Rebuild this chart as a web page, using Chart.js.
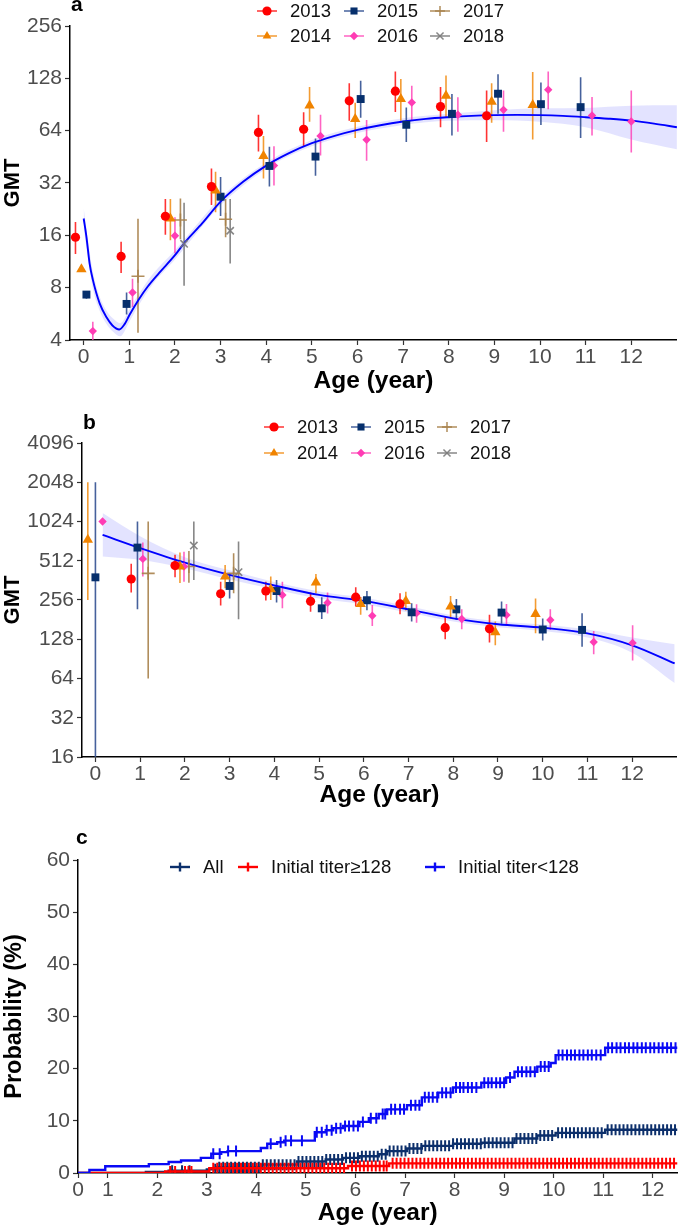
<!DOCTYPE html>
<html lang="en">
<head>
<meta charset="UTF-8">
<title>GMT by age and survival probability</title>
<script src="https://cdn.jsdelivr.net/npm/chart.js@4.4.1/dist/chart.umd.min.js"></script>
<style>
    body { margin: 0; background: #fff; font-family: "Liberation Sans", Arial, sans-serif; }
    #page { position: relative; width: 685px; height: 1228px; overflow: hidden; }
    .panel { position: absolute; left: 0; }
    .tag { position: absolute; font-size: 21px; font-weight: bold; line-height: 1; color: #000; }
    .legend { position: absolute; display: grid; grid-auto-flow: column; font-size: 18.5px; color: #111; }
    .legend .item { display: flex; align-items: center; white-space: nowrap; }
    .legend canvas { margin-right: 12px; }
</style>
</head>
<body>
<div id="page">
    <div class="panel" style="top:0"><canvas id="chartA" width="685" height="400"></canvas></div>
    <div class="panel" style="top:400px"><canvas id="chartB" width="685" height="410"></canvas></div>
    <div class="panel" style="top:810px"><canvas id="chartC" width="685" height="418"></canvas></div>
    <div class="tag" style="left:71px; top:-7px">a</div>
    <div class="tag" style="left:83px; top:411px">b</div>
    <div class="tag" style="left:76px; top:826px">c</div>
    <div class="legend" id="legendA" style="left:256px; top:-2px; grid-template-columns:87px 86px 90px; grid-template-rows:25px 25px"></div>
    <div class="legend" id="legendB" style="left:263px; top:414px; grid-template-columns:87px 86px 90px; grid-template-rows:26px 26px"></div>
    <div class="legend" id="legendC" style="left:169px; top:855px; grid-template-columns:68px 187px auto; grid-template-rows:24px"></div>
</div>

<script>
    // survey years
    const years = ['2013', '2014', '2015', '2016', '2017', '2018'];

    // panel a: [age, GMT, lower, upper]
    const a2013 = [[-0.18, 15.6, 12.5, 19.1], [0.82, 12.1, 9.7, 14.7], [1.79, 20.6, 16.1, 25.9], [2.80, 30.5, 23.9, 38.8],
        [3.83, 62.5, 48.6, 78.9], [4.82, 65.2, 51.8, 81.6], [5.82, 95, 73, 120], [6.83, 108, 82, 140],
        [7.82, 88, 67, 114], [8.83, 78, 55, 109]];
    const a2014 = [[-0.05, 10.2, 9.9, 10.5], [1.90, 20, 15, 25.9], [2.89, 29, 21.7, 37.2], [3.94, 45.8, 34, 59.6],
        [4.95, 89.3, 72, 114], [5.95, 74.6, 58, 92.5], [6.95, 97.3, 73, 127], [7.94, 101.6, 76, 133],
        [8.94, 94, 71, 120], [9.84, 90, 57, 139]];
    const a2015 = [[0.06, 7.3, 6.9, 7.6], [0.94, 6.45, 5.6, 7.5], [3.0, 26.7, 20.7, 34.6], [4.07, 40.1, 30.5, 51.7],
        [5.08, 45.4, 35.2, 57.7], [6.07, 97.3, 76, 124], [7.07, 69.2, 55, 87], [8.07, 80, 60, 104],
        [9.08, 104.4, 80, 135], [10.02, 90.9, 69, 121], [10.89, 87.4, 58, 130]];
    const a2016 = [[0.2, 4.5, 4, 5.1], [1.07, 7.5, 6.2, 9.0], [2.0, 15.9, 12.6, 20.3], [4.17, 40.3, 31, 52],
        [5.19, 59.7, 46, 79], [6.2, 56.7, 43, 73.7], [7.19, 92.9, 73, 116], [8.2, 79, 63, 99.5],
        [9.2, 84.3, 63, 109], [10.18, 110, 85, 140], [11.14, 78.2, 60, 100], [12.0, 72.2, 48, 109]];
    const a2017 = [[1.19, 9.3, 4.4, 19.9], [2.12, 19.6, 15.2, 26.1], [3.11, 19.8, 15.6, 25.9]];
    const a2018 = [[2.2, 14.3, 8.2, 24.6], [3.21, 17, 11, 25.9]];

    // panel a: fitted curve and its confidence band
    const fitAAge = [0, 0.06, 0.13, 0.2, 0.35, 0.5, 0.63, 0.78, 0.9, 1.0, 1.2, 1.4, 1.65, 2.0, 2.2, 2.6, 3.0, 3.5,
        4, 4.5, 5, 5.5, 6, 6.5, 7, 7.5, 8, 8.5, 9, 9.5, 10, 10.5, 11, 11.5, 12, 12.5, 13];
    const fitAGmt = [20, 15.7, 11, 8.9, 6.5, 5.4, 4.85, 4.6, 4.95, 5.55, 6.8, 8.1, 9.7, 12.3, 14.4, 18.8, 25, 32.6,
        40.3, 47.5, 54.2, 59.8, 64.7, 68.8, 72.2, 74.8, 76.5, 77.8, 78.6, 78.9, 78.6, 77.8, 76.5, 75, 73.1, 70.3, 67];
    const bandAAge = [0, 0.1, 0.2, 0.35, 0.5, 0.65, 0.8, 1.0, 1.2, 1.5, 2, 2.5, 3, 4, 5, 6, 7, 8, 9, 10, 11, 12, 13];
    const bandAHi = [23, 14.6, 9.9, 7.1, 5.9, 5.3, 5.0, 6.0, 7.3, 9.5, 13.1, 18.7, 26.3, 42, 56.5, 67.5, 75.5, 80, 84, 86, 86.5, 89, 89.5];
    const bandALo = [17.4, 11.6, 7.9, 5.9, 4.95, 4.45, 4.2, 5.1, 6.3, 8.3, 11.6, 16.8, 23.8, 38.7, 52, 62, 69, 73, 73.5, 72, 67, 57, 50];

    // panel b: [age, GMT, lower, upper]
    const b2013 = [[0.80, 371, 292, 485], [1.78, 470, 383, 568], [2.80, 286, 232, 354], [3.81, 300, 254, 354],
        [4.81, 250, 208, 292], [5.82, 269, 228, 321], [6.81, 239, 199, 288], [7.82, 157, 128, 190], [8.81, 154, 121, 197]];
    const b2014 = [[-0.17, 741, 256, 2048], [1.89, 462, 345, 592], [2.90, 387, 315, 475], [3.92, 309, 256, 388],
        [4.93, 348, 288, 405], [5.93, 239, 197, 270], [6.94, 252, 213, 296], [7.94, 228, 185, 275],
        [8.94, 145, 115, 175], [9.84, 200, 142, 263]];
    const b2015 = [[0.0, 382, 12, 2048], [0.94, 646, 217, 1024], [3.0, 328, 263, 410], [4.05, 300, 245, 365],
        [5.06, 221, 183, 269], [6.07, 255, 214, 300], [7.07, 206, 175, 242], [8.07, 217, 180, 261],
        [9.08, 205, 168, 249], [10.0, 152, 125, 185], [10.88, 151, 112, 203]];
    const b2016 = [[0.16, 1024, 1010, 1040], [1.06, 529, 388, 706], [1.98, 462, 354, 601], [4.18, 280, 221, 354],
        [5.19, 244, 202, 292], [6.19, 194, 162, 234], [7.18, 203, 171, 237], [8.19, 183, 153, 217],
        [9.19, 196, 164, 239], [10.17, 180, 151, 217], [11.14, 122, 98, 148], [12.01, 120, 88, 164]];
    const b2017 = [[1.18, 410, 64, 1024], [2.09, 462, 347, 609], [3.09, 410, 288, 585]];
    const b2018 = [[2.2, 669, 365, 1024], [3.2, 418, 182, 719]];

    const fitBAge = [0.16, 1, 2, 3, 4, 5, 6, 7, 8, 9, 10, 11, 12, 12.95];
    const fitBGmt = [808, 640, 495, 399, 331, 280, 252, 217, 185, 167, 157, 142, 115, 83.5];
    const bandBAge = [0.16, 1, 2, 3, 4, 5, 6, 7, 8, 9, 10, 11, 12, 12.95];
    const bandBHi = [1190, 790, 545, 432, 352, 298, 267, 229, 195, 176, 166, 152, 132, 117];
    const bandBLo = [552, 520, 448, 368, 310, 263, 238, 205, 175, 158, 148, 132, 101, 59];

    // axis ticks
    const ageTicks = [0, 1, 2, 3, 4, 5, 6, 7, 8, 9, 10, 11, 12];
    const gmtTicksA = [4, 8, 16, 32, 64, 128, 256];
    const gmtTicksB = [16, 32, 64, 128, 256, 512, 1024, 2048, 4096];
    const survAgeTicks = [0.4, 1, 2, 3, 4, 5, 6, 7, 8, 9, 10, 11, 12];
    const survAgeLabels = ['0', '1', '2', '3', '4', '5', '6', '7', '8', '9', '10', '11', '12'];
    const probTicks = [0, 10, 20, 30, 40, 50, 60];
    const probMinorTicks = [5, 15, 25, 35, 45, 55];

    // panel c: step times (age) and cumulative probability (%)
    const survNames = ['All', 'Initial titer\u2265128', 'Initial titer<128'];
    const allT = [0.4, 1.77, 2.23, 3.0, 3.2, 4.09, 4.82, 5.4, 5.75, 6.08, 6.47, 6.64, 7.04, 7.34, 7.97, 8.54, 9.21, 9.67, 10.04, 11.04, 12.5];
    const allP = [0, 0.2, 0.45, 0.7, 1.1, 1.6, 2.2, 2.6, 2.9, 3.2, 3.6, 4.2, 4.7, 5.2, 5.6, 5.8, 6.6, 7.2, 7.7, 8.3, 8.3];
    const highT = [0.4, 2.16, 3.05, 5.85, 6.68, 12.5];
    const highP = [0, 0.3, 0.9, 1.35, 1.85, 1.85];
    const lowT = [0.4, 0.63, 0.95, 1.83, 2.23, 2.48, 2.88, 3.09, 3.29, 3.42, 4.09, 4.22, 4.42, 4.56, 5.18, 5.4, 5.55, 5.75,
        6.08, 6.27, 6.47, 6.64, 7.04, 7.34, 7.67, 7.97, 8.54, 9.04, 9.21, 9.67, 9.94, 10.04, 11.04, 12.5];
    const lowP = [0, 0.6, 1.3, 1.7, 2.1, 2.4, 2.9, 3.7, 4.0, 4.2, 4.8, 5.6, 5.9, 6.2, 7.8, 8.2, 8.6, 9.0,
        9.8, 10.5, 11.3, 12.2, 13.0, 14.5, 15.4, 16.4, 17.3, 18.3, 19.4, 20.4, 21.1, 22.6, 24.0, 24.0];

    // censored ages
    const allCensor = [2.3, 2.5, 2.65, 3.17, 3.25, 3.33, 3.41, 3.49, 3.57, 3.65, 3.73, 3.81, 3.89, 3.97, 4.05, 4.13, 4.21,
        4.29, 4.37, 4.45, 4.53, 4.61, 4.69, 4.77, 4.85, 4.93, 5.01, 5.09, 5.17, 5.25, 5.33, 5.41, 5.49, 5.57, 5.65,
        5.73, 5.81, 5.89, 5.97, 6.05, 6.13, 6.21, 6.29, 6.37, 6.45, 6.53, 6.61, 6.69, 6.77, 6.85, 6.93, 7.01, 7.09,
        7.17, 7.25, 7.33, 7.41, 7.49, 7.57, 7.65, 7.73, 7.81, 7.89, 7.97, 8.05, 8.13, 8.21, 8.29, 8.37, 8.45, 8.53,
        8.61, 8.69, 8.77, 8.85, 8.93, 9.01, 9.09, 9.17, 9.25, 9.33, 9.41, 9.49, 9.57, 9.65, 9.73, 9.81, 9.89, 9.97,
        10.09, 10.17, 10.25, 10.33, 10.41, 10.49, 10.57, 10.65, 10.73, 10.81, 10.89, 10.97, 11.09, 11.17, 11.25,
        11.33, 11.41, 11.49, 11.57, 11.65, 11.73, 11.81, 11.89, 11.97, 12.05, 12.13, 12.21, 12.29, 12.37, 12.45];
    const highCensor = [2.26, 2.36, 2.56, 2.63, 2.69, 3.13, 3.21, 3.29, 3.37, 3.45, 3.53, 3.61, 3.69, 3.77, 3.85, 3.93,
        4.01, 4.09, 4.17, 4.25, 4.33, 4.41, 4.49, 4.57, 4.65, 4.73, 4.81, 4.89, 4.97, 5.05, 5.13, 5.21, 5.29, 5.37,
        5.45, 5.53, 5.61, 5.69, 5.77, 5.93, 6.01, 6.09, 6.17, 6.25, 6.33, 6.41, 6.49, 6.57, 6.63, 6.75, 6.83, 6.91,
        6.99, 7.07, 7.15, 7.23, 7.31, 7.39, 7.47, 7.55, 7.63, 7.71, 7.79, 7.87, 7.95, 8.03, 8.11, 8.19, 8.27, 8.35,
        8.43, 8.51, 8.59, 8.67, 8.75, 8.83, 8.91, 8.99, 9.07, 9.15, 9.23, 9.31, 9.39, 9.47, 9.55, 9.63, 9.71, 9.79,
        9.87, 9.95, 10.03, 10.11, 10.19, 10.27, 10.35, 10.43, 10.51, 10.59, 10.67, 10.75, 10.83, 10.91, 10.99,
        11.07, 11.15, 11.23, 11.31, 11.39, 11.47, 11.55, 11.63, 11.71, 11.79, 11.87, 11.95, 12.03, 12.11, 12.19,
        12.27, 12.35, 12.43];
    const lowCensor = [3.13, 3.26, 3.43, 3.59, 4.29, 4.49, 4.59, 4.70, 4.92, 5.22, 5.32, 5.42, 5.52, 5.61, 5.7, 5.79,
        5.87, 5.96, 6.05, 6.15, 6.31, 6.42, 6.55, 6.6, 6.72, 6.8, 6.9, 6.98, 7.12, 7.21, 7.29, 7.4, 7.48, 7.56, 7.65,
        7.75, 7.83, 7.92, 8.03, 8.11, 8.18, 8.27, 8.35, 8.44, 8.6, 8.68, 8.75, 8.84, 8.92, 9.0, 9.12, 9.28, 9.36,
        9.45, 9.53, 9.62, 9.74, 9.82, 9.9, 10.1, 10.18, 10.27, 10.35, 10.43, 10.52, 10.6, 10.69, 10.77, 10.86, 10.95,
        11.1, 11.18, 11.27, 11.35, 11.44, 11.52, 11.61, 11.69, 11.78, 11.86, 11.95, 12.03, 12.12, 12.2, 12.29,
        12.37, 12.46];

    // styles
    const yearColors = ['#ff0000', '#f08300', '#062f6c', '#ff3cb4', '#a7814a', '#7a7a7a'];
    const barColors = ['rgba(255,0,0,0.8)', 'rgba(240,131,0,0.8)', 'rgba(50,80,145,0.9)', 'rgba(255,60,180,0.8)', 'rgba(167,129,74,0.9)', 'rgba(122,122,122,0.9)'];
    const yearShapes = ['circle', 'triangle', 'rect', 'rectRot', 'cross', 'crossRot'];
    const yearRadius = [4.6, 6, 5.6, 4.2, 6.5, 5.2];
    const survColors = ['#0c2f6b', '#ff0000', '#0a0af5'];
    const fitColor = '#0000ff';
    const bandColor = 'rgba(60,60,255,0.14)';
    const tickGrey = '#4d4d4d';

    Chart.defaults.font.family = '"Liberation Sans", Arial, sans-serif';
    Chart.defaults.animation = false;
    Chart.defaults.events = [];
    Chart.defaults.plugins.legend.display = false;
    Chart.defaults.plugins.tooltip.enabled = false;

    const isStroked = s => s === 'cross' || s === 'crossRot' || s === 'line';
    const axisGrid = { drawOnChartArea: false, offset: false, tickLength: 5, tickColor: '#333', tickWidth: 1.2 };
    const axisBorder = { display: true, color: '#000', width: 1.5 };

    function gmtDatasets(series, fitX, fitY, bandX, bandLo, bandHi) {
        const sets = [
            { type: 'line', data: bandX.map((x, i) => ({ x, y: bandHi[i] })), borderWidth: 0, pointRadius: 0,
              fill: false, cubicInterpolationMode: 'monotone', order: 10 },
            { type: 'line', data: bandX.map((x, i) => ({ x, y: bandLo[i] })), borderWidth: 0, pointRadius: 0,
              fill: '-1', backgroundColor: bandColor, cubicInterpolationMode: 'monotone', order: 10 },
            { type: 'line', data: fitX.map((x, i) => ({ x, y: fitY[i] })), borderColor: fitColor, borderWidth: 1.9,
              pointRadius: 0, fill: false, cubicInterpolationMode: 'monotone', order: 4 }
        ];
        // error bars: one broken line per year (null breaks the segments)
        series.forEach((rows, i) => {
            sets.push({ type: 'line', data: rows.flatMap(r => [{ x: r[0], y: r[2] }, { x: r[0], y: r[3] }, { x: r[0], y: null }]),
                borderColor: barColors[i], borderWidth: 1.6, pointRadius: 0, fill: false, spanGaps: false, order: 5 });
        });
        series.forEach((rows, i) => {
            const stroked = isStroked(yearShapes[i]);
            sets.push({ type: 'scatter', data: rows.map(r => ({ x: r[0], y: r[1] })), pointStyle: yearShapes[i],
                pointRadius: yearRadius[i], backgroundColor: yearColors[i],
                borderColor: stroked ? barColors[i] : yearColors[i], borderWidth: stroked ? 1.6 : 0, order: 1 });
        });
        return sets;
    }

    function gmtOptions(gmtTicks, plotTop, axisLeft, axisHeight, titlePad) {
        return {
            responsive: false,
            devicePixelRatio: 1,
            layout: { padding: { top: plotTop, right: 2, left: 0, bottom: 0 } },
            scales: {
                x: {
                    type: 'linear', min: -0.3, max: 13, offset: false,
                    afterBuildTicks: s => { s.ticks = ageTicks.map(v => ({ value: v })); },
                    afterFit: s => { s.height = axisHeight; },
                    border: axisBorder,
                    grid: axisGrid,
                    ticks: { color: tickGrey, font: { size: 21 }, padding: 0, maxRotation: 0, autoSkip: false },
                    title: { display: true, text: 'Age (year)', color: '#000', font: { size: 24.5, weight: 'bold' },
                             padding: { top: 0, bottom: titlePad } }
                },
                y: {
                    type: 'logarithmic', min: gmtTicks[0], max: gmtTicks[gmtTicks.length - 1],
                    afterBuildTicks: s => { s.ticks = gmtTicks.map(v => ({ value: v })); },
                    afterFit: s => { s.width = axisLeft; },
                    border: axisBorder,
                    grid: axisGrid,
                    ticks: { color: tickGrey, font: { size: 21 }, padding: 3, callback: v => String(v) },
                    title: { display: true, text: 'GMT', color: '#000', font: { size: 22, weight: 'bold' }, padding: 0 }
                }
            }
        };
    }

    new Chart(document.getElementById('chartA'), {
        type: 'scatter',
        data: { datasets: gmtDatasets([a2013, a2014, a2015, a2016, a2017, a2018], fitAAge, fitAGmt, bandAAge, bandALo, bandAHi) },
        options: gmtOptions(gmtTicksA, 26, 70, 60, 4)
    });

    new Chart(document.getElementById('chartB'), {
        type: 'scatter',
        data: { datasets: gmtDatasets([b2013, b2014, b2015, b2016, b2017, b2018], fitBAge, fitBGmt, bandBAge, bandBLo, bandBHi) },
        options: gmtOptions(gmtTicksB, 43, 82, 53, 0)
    });

    // panel c
    function levelAt(ts, ps, t) {
        let v = ps[0];
        for (let i = 0; i < ts.length; i++) if (ts[i] <= t) v = ps[i];
        return v;
    }

    const survSeries = [[allT, allP, allCensor], [highT, highP, highCensor], [lowT, lowP, lowCensor]];
    const survSets = [];
    survSeries.forEach(([ts, ps, cens], i) => {
        survSets.push({ type: 'line', data: ts.map((t, k) => ({ x: t, y: ps[k] })), stepped: 'before',
            borderColor: survColors[i], borderWidth: 2.4, pointRadius: 0, fill: false, order: 6 - i * 2 });
        survSets.push({ type: 'scatter', data: cens.map(t => ({ x: t, y: levelAt(ts, ps, t) })), pointStyle: 'line',
            rotation: 90, pointRadius: 5.5, borderColor: survColors[i], borderWidth: 2, order: 5 - i * 2 });
    });

    new Chart(document.getElementById('chartC'), {
        type: 'scatter',
        data: { datasets: survSets },
        options: {
            responsive: false,
            devicePixelRatio: 1,
            layout: { padding: { top: 50, right: 1, left: 0, bottom: 0 } },
            scales: {
                x: {
                    type: 'linear', min: 0.4, max: 12.5, offset: false,
                    afterBuildTicks: s => { s.ticks = survAgeTicks.map(v => ({ value: v })); },
                    afterFit: s => { s.height = 55; },
                    border: axisBorder,
                    grid: axisGrid,
                    ticks: { color: tickGrey, font: { size: 21 }, padding: 0, maxRotation: 0, autoSkip: false,
                             callback: (v, i) => survAgeLabels[i] },
                    title: { display: true, text: 'Age (year)', color: '#000', font: { size: 24.5, weight: 'bold' },
                             padding: { top: 0, bottom: 0 } }
                },
                y: {
                    type: 'linear', min: 0, max: 60,
                    afterBuildTicks: s => {
                        s.ticks = probTicks.concat(probMinorTicks).sort((p, q) => p - q).map(v => ({ value: v }));
                    },
                    afterFit: s => { s.width = 78; },
                    border: axisBorder,
                    grid: axisGrid,
                    ticks: { color: tickGrey, font: { size: 21 }, padding: 3,
                             callback: v => probTicks.includes(v) ? String(v) : '' },
                    title: { display: true, text: 'Probability (%)', color: '#000', font: { size: 23.5, weight: 'bold' }, padding: 0 }
                }
            }
        }
    });

    // legends
    function legendIcon(lineColor, markColor, shape, radius, rotation, lineWidth) {
        const c = document.createElement('canvas');
        c.width = 22; c.height = 20;
        const ctx = c.getContext('2d');
        ctx.strokeStyle = lineColor;
        ctx.lineWidth = lineWidth;
        ctx.beginPath();
        ctx.moveTo(1, 10); ctx.lineTo(21, 10);
        ctx.stroke();
        const stroked = isStroked(shape);
        ctx.fillStyle = markColor;
        ctx.strokeStyle = stroked ? lineColor : markColor;
        ctx.lineWidth = stroked ? lineWidth : 0;
        Chart.helpers.drawPoint(ctx, { pointStyle: shape, radius, rotation, borderWidth: stroked ? lineWidth : 0 }, 11, 10);
        return c;
    }

    function fillLegend(id, labels, makeIcon) {
        const box = document.getElementById(id);
        labels.forEach((label, i) => {
            const item = document.createElement('div');
            item.className = 'item';
            item.appendChild(makeIcon(i));
            const span = document.createElement('span');
            span.textContent = label;
            item.appendChild(span);
            box.appendChild(item);
        });
    }

    const yearIcon = i => legendIcon(barColors[i], yearColors[i], yearShapes[i], Math.min(yearRadius[i], 5), 0, 1.5);
    fillLegend('legendA', years, yearIcon);
    fillLegend('legendB', years, yearIcon);
    fillLegend('legendC', survNames, i => legendIcon(survColors[i], survColors[i], 'line', 4.5, 90, 2.4));
</script>
</body>
</html>
